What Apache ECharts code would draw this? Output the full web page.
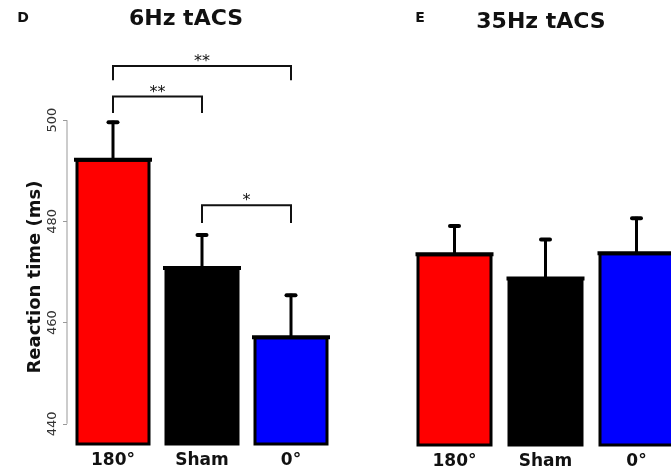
<!DOCTYPE html>
<html><head><meta charset="utf-8">
<script src="https://cdn.jsdelivr.net/npm/echarts@6/dist/echarts.min.js"></script>
<style>html,body{margin:0;padding:0;background:#fff}#c{width:671px;height:469px}</style>
</head><body><div id="c"></div><script>
// ---- data ----
const categories = ['180°', 'Sham', '0°'];
const mean6 = [492.4, 471.0, 457.3];
const sem6 = [7.5, 6.6, 8.4];
const mean35 = [473.9, 469.1, 474.1];
const sem35 = [5.7, 7.8, 7.0];
const yTicks = [440, 460, 480, 500];
const sigFrom = [0, 0, 1];
const sigTo = [2, 1, 2];
const sigLabel = ['**', '**', '*'];
const sigLevel = [510.7, 504.7, 483.2];
const sigDrop = [2.8, 3.3, 3.5];
const titles = ['6Hz tACS', '35Hz tACS'];
const panelLetters = ['D', 'E'];

// ---- styles ----
const barColors = ['#ff0000', '#000000', '#0000ff'];
const FONT = 'DejaVu Sans';
const chart = echarts.init(document.getElementById('c'), null, {renderer: 'canvas'});

function barData(means) {
  return means.map((v, i) => ({value: v, itemStyle: {color: barColors[i]}}));
}
function errData(means, sems) {
  return means.map((m, i) => [i, m, m + sems[i]]);
}
function errRender(params, api) {
  const x = api.value(0), m = api.value(1), u = api.value(2);
  const p0 = api.coord([x, m]);
  const p1 = api.coord([x, u]);
  return {
    type: 'group',
    children: [
      {type: 'line', shape: {x1: p0[0] - 39, y1: p0[1] + 1, x2: p0[0] + 39, y2: p0[1] + 1},
       style: {stroke: '#000', lineWidth: 4}},
      {type: 'line', shape: {x1: p0[0], y1: p0[1], x2: p1[0], y2: p1[1]},
       style: {stroke: '#000', lineWidth: 3}},
      {type: 'line', shape: {x1: p1[0] - 4.5, y1: p1[1] + 1.5, x2: p1[0] + 4.5, y2: p1[1] + 1.5},
       style: {stroke: '#000', lineWidth: 4, lineCap: 'round'}}
    ]
  };
}
function sigRender(params, api) {
  const a = api.value(0), b = api.value(1), lv = api.value(2), dr = api.value(3);
  const pa = api.coord([a, lv]), pb = api.coord([b, lv]);
  const pad = api.coord([a, lv - dr]), pbd = api.coord([b, lv - dr]);
  return {
    type: 'group',
    children: [
      {type: 'polyline', shape: {points: [pad, pa, pb, pbd]},
       style: {stroke: '#111', lineWidth: 2, fill: null}},
      {type: 'text', x: (pa[0] + pb[0]) / 2, y: pa[1] - 4,
       style: {text: sigLabel[params.dataIndex], font: 'normal 16px "' + FONT + '"',
               fill: '#111', align: 'center', verticalAlign: 'middle'}}
    ]
  };
}

const xAxisCommon = {
  type: 'category', data: categories,
  axisLine: {show: false}, axisTick: {show: false},
  axisLabel: {color: '#111', fontFamily: FONT, fontWeight: 'bold', fontSize: 17, margin: 8}
};

const option = {
  animation: false,
  backgroundColor: '#fff',
  grid: [
    {left: 68.5, top: 19, width: 267, height: 425, outerBoundsMode: 'none', containLabel: false},
    {left: 409, top: 20, width: 273, height: 425, outerBoundsMode: 'none', containLabel: false}
  ],
  xAxis: [
    Object.assign({gridIndex: 0}, xAxisCommon),
    Object.assign({gridIndex: 1}, xAxisCommon)
  ],
  yAxis: [
    {type: 'value', gridIndex: 0, min: 436, max: 520, offset: 1.5,
     splitLine: {show: false}, axisLine: {show: false},
     axisTick: {show: true, customValues: yTicks, length: 4, lineStyle: {color: '#999', width: 1}},
     axisLabel: {customValues: yTicks, rotate: 90, margin: 8, fontSize: 13,
                 color: '#333', fontFamily: FONT}},
    {type: 'value', gridIndex: 1, min: 436, max: 520, show: false}
  ],
  series: [
    {type: 'bar', xAxisIndex: 0, yAxisIndex: 0, data: barData(mean6), barWidth: 75,
     itemStyle: {borderColor: '#000', borderWidth: 3}, z: 2},
    {type: 'bar', xAxisIndex: 1, yAxisIndex: 1, data: barData(mean35), barWidth: 76,
     itemStyle: {borderColor: '#000', borderWidth: 3}, z: 2},
    {type: 'custom', xAxisIndex: 0, yAxisIndex: 0, data: errData(mean6, sem6),
     renderItem: errRender, clip: false, z: 3},
    {type: 'custom', xAxisIndex: 1, yAxisIndex: 1, data: errData(mean35, sem35),
     renderItem: errRender, clip: false, z: 3},
    {type: 'custom', xAxisIndex: 0, yAxisIndex: 0,
     data: sigFrom.map((f, i) => [f, sigTo[i], sigLevel[i], sigDrop[i]]),
     renderItem: sigRender, clip: false, z: 4}
  ]
};
chart.setOption(option);

const yBot = chart.convertToPixel({yAxisIndex: 0}, yTicks[0]);
const yTop = chart.convertToPixel({yAxisIndex: 0}, yTicks[yTicks.length - 1]);
chart.setOption({
  graphic: [
    {type: 'line', shape: {x1: 67, y1: yBot, x2: 67, y2: yTop}, style: {stroke: '#999', lineWidth: 1}},
    {type: 'text', x: 23, y: 18, style: {text: panelLetters[0], font: 'bold 14px "' + FONT + '"', fill: '#111', align: 'center', verticalAlign: 'middle'}},
    {type: 'text', x: 420, y: 18, style: {text: panelLetters[1], font: 'bold 14px "' + FONT + '"', fill: '#111', align: 'center', verticalAlign: 'middle'}},
    {type: 'text', x: 186, y: 19, style: {text: titles[0], font: 'bold 22px "' + FONT + '"', fill: '#111', align: 'center', verticalAlign: 'middle'}},
    {type: 'text', x: 541, y: 22, style: {text: titles[1], font: 'bold 22px "' + FONT + '"', fill: '#111', align: 'center', verticalAlign: 'middle'}},
    {type: 'text', x: 35, y: 277, rotation: Math.PI / 2,
     style: {text: 'Reaction time (ms)', font: 'bold 18px "' + FONT + '"', fill: '#111', align: 'center', verticalAlign: 'middle'}}
  ]
});
</script></body></html>
